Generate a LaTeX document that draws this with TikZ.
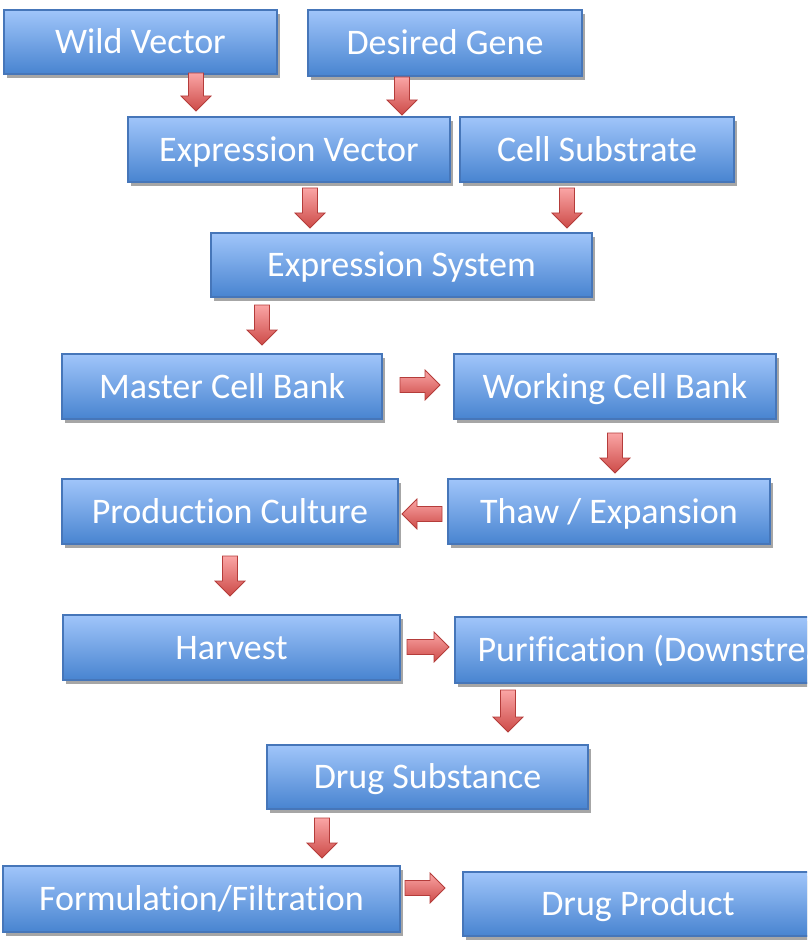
\documentclass[tikz,border=0pt]{standalone}
\usepackage{fontspec}
\setmainfont[Ligatures=NoCommon]{Carlito}
\usetikzlibrary{shadows}
\definecolor{boxtop}{RGB}{160,197,250}
\definecolor{boxbot}{RGB}{72,132,208}
\definecolor{boxline}{RGB}{70,118,185}
\definecolor{arrtop}{RGB}{250,165,165}
\definecolor{arrbot}{RGB}{205,75,72}
\definecolor{arrline}{RGB}{180,60,58}
\tikzset{
  flowbox/.style={draw=boxline, line width=0.8pt, top color=boxtop, bottom color=boxbot,
    text=white, font=\fontsize{27}{32}\selectfont, inner sep=0pt, align=center,
    text height=20pt, text depth=2.6pt,
    drop shadow={shadow xshift=2.2pt, shadow yshift=-2.8pt, opacity=0.35, fill=black}},
  arrowfill/.style={draw=arrline, line width=0.6pt, top color=arrtop, bottom color=arrbot}
}
% #1 start point, #2 angle, #3 length (px)
\newcommand\blockarrow[3]{%
  \begin{scope}[shift={#1}, rotate=#2]
    \shade[arrowfill] (0,-7.5) -- ({#3-15},-7.5) -- ({#3-15},-15) -- (#3,0)
      -- ({#3-15},15) -- ({#3-15},7.5) -- (0,7.5) -- cycle;
  \end{scope}}
\begin{document}
\begin{tikzpicture}[x=0.75pt, y=-0.75pt]
\clip (0,0) rectangle (807,941);
\path[use as bounding box] (0,0) rectangle (807,941);

\node[flowbox, minimum width=273*0.75pt, minimum height=64*0.75pt] (wv) at (140.5,42) {Wild Vector};
\node[flowbox, minimum width=274*0.75pt, minimum height=66*0.75pt] (dg) at (445,43) {Desired Gene};
\node[flowbox, minimum width=322*0.75pt, minimum height=65*0.75pt] (ev) at (289,149.5) {Expression Vector};
\node[flowbox, minimum width=274*0.75pt, minimum height=65*0.75pt] (cs) at (597,149.5) {Cell Substrate};
\node[flowbox, minimum width=381*0.75pt, minimum height=64*0.75pt] (es) at (401.5,265) {Expression System};
\node[flowbox, minimum width=320*0.75pt, minimum height=65*0.75pt] (mcb) at (222,386.5) {Master Cell Bank};
\node[flowbox, minimum width=322*0.75pt, minimum height=65*0.75pt] (wcb) at (615,386.5) {Working Cell Bank};
\node[flowbox, minimum width=336*0.75pt, minimum height=65*0.75pt] (pc) at (230,511.5) {Production Culture};
\node[flowbox, minimum width=322*0.75pt, minimum height=65*0.75pt] (te) at (609,511.5) {Thaw / Expansion};
\node[flowbox, minimum width=337*0.75pt, minimum height=65*0.75pt] (hv) at (231.5,647.5) {Harvest};
\node[flowbox, minimum width=430*0.75pt, minimum height=66*0.75pt] (pu) at (670,650) {Purification (Downstream)};
\node[flowbox, minimum width=321*0.75pt, minimum height=64*0.75pt] (ds) at (427.5,777) {Drug Substance};
\node[flowbox, minimum width=397*0.75pt, minimum height=66*0.75pt] (ff) at (201.5,899) {Formulation/Filtration};
\node[flowbox, minimum width=350*0.75pt, minimum height=64*0.75pt] (dp) at (638,904) {Drug Product};

% connectors (block arrows)
\blockarrow{(196,73)}{-90}{38}   % wv -> ev
\blockarrow{(402,77)}{-90}{38}   % dg -> ev
\blockarrow{(310,188)}{-90}{40}  % ev -> es
\blockarrow{(567,188)}{-90}{40}  % cs -> es
\blockarrow{(262,305)}{-90}{40}  % es -> mcb
\blockarrow{(400,385)}{0}{40}    % mcb -> wcb
\blockarrow{(615,433)}{-90}{40}  % wcb -> te
\blockarrow{(442,514)}{180}{40}  % te -> pc
\blockarrow{(230,556)}{-90}{40}  % pc -> hv
\blockarrow{(407,647)}{0}{42}    % hv -> pu
\blockarrow{(508,690)}{-90}{42}  % pu -> ds
\blockarrow{(322,818)}{-90}{40}  % ds -> ff
\blockarrow{(405,888)}{0}{40}    % ff -> dp
\end{tikzpicture}
\end{document}
